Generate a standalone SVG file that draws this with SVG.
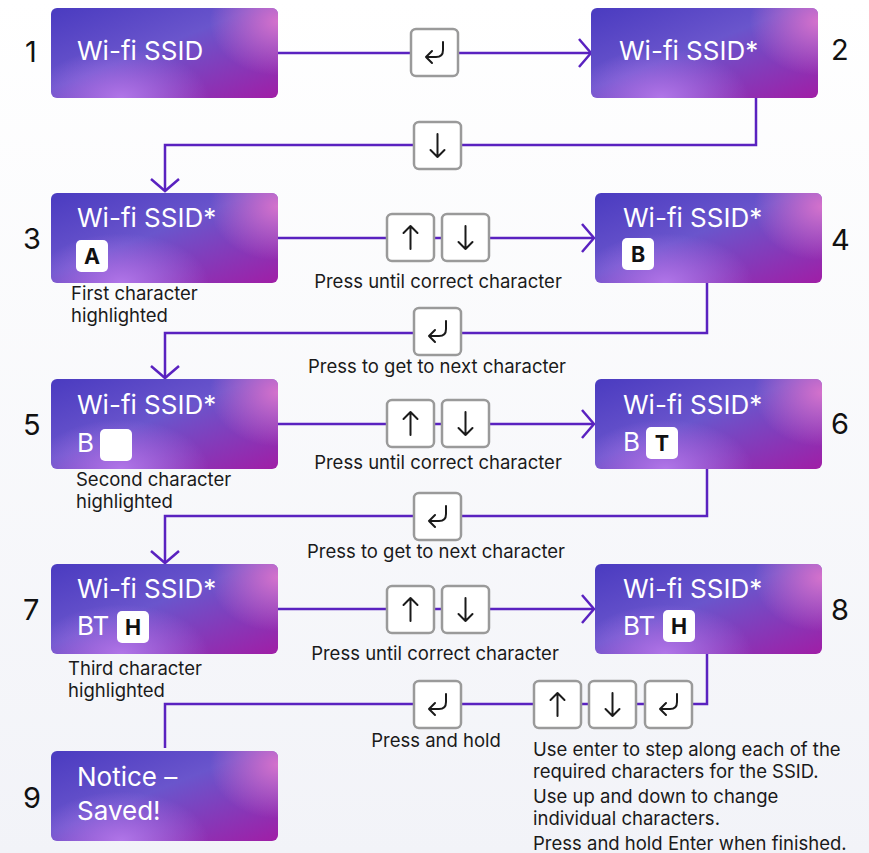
<svg xmlns="http://www.w3.org/2000/svg" xmlns:xlink="http://www.w3.org/1999/xlink" width="869" height="853" viewBox="0 0 869 853">
<style>
text{font-variant-ligatures:none;font-feature-settings:"liga" 0;}
.node-bg{fill:url(#gBase);}
.glow1{fill:url(#gPink);}
.glow2{fill:url(#gLav);}
.nt{font-family:Inter,"Liberation Sans",sans-serif;font-size:26px;fill:#ffffff;}
.num{font-family:Inter,"Liberation Sans",sans-serif;font-size:29px;fill:#111111;}
.chip{fill:#ffffff;}
.ct{font-family:Inter,"Liberation Sans",sans-serif;font-size:21.5px;font-weight:bold;fill:#111111;text-anchor:middle;}
.lbl{font-family:Inter,"Liberation Sans",sans-serif;font-size:18.5px;fill:#1a1a1a;}
.mid{text-anchor:middle;}
.conn{fill:none;stroke:#5a22c0;stroke-width:2.5;}
.keybox{fill:#ffffff;stroke:#9a9a9a;stroke-width:2.5;}
.glyph{fill:none;stroke:#1a1a1a;stroke-width:2;stroke-linecap:round;stroke-linejoin:round;}
</style>
<defs>
<linearGradient id="bg" x1="0" y1="0" x2="0" y2="1">
<stop offset="0" stop-color="#ffffff"/>
<stop offset="1" stop-color="#f2f3f8"/>
</linearGradient>
<linearGradient id="gBase" x1="0" y1="0" x2="1" y2="1">
<stop offset="0" stop-color="#4a3bc0"/>
<stop offset="0.45" stop-color="#6a55cc"/>
<stop offset="1" stop-color="#a01ea6"/>
</linearGradient>
<radialGradient id="gPink" cx="1" cy="0.1" r="0.6" gradientTransform="translate(0.5 0.05) scale(0.5 1)">
<stop offset="0" stop-color="#d472cc" stop-opacity="1"/>
<stop offset="1" stop-color="#d472cc" stop-opacity="0"/>
</radialGradient>
<radialGradient id="gLav" cx="0.3" cy="1" r="0.55" gradientTransform="translate(0.1 0) scale(0.7 1)">
<stop offset="0" stop-color="#b378ea" stop-opacity="0.95"/>
<stop offset="1" stop-color="#b378ea" stop-opacity="0"/>
</radialGradient>
<marker id="arr" markerUnits="userSpaceOnUse" markerWidth="16" markerHeight="32" refX="13" refY="15" orient="auto" overflow="visible">
<path d="M1,1 L13,15 L1,29" fill="none" stroke="#5a22c0" stroke-width="2.5"/>
</marker>
<g id="kEnter">
<rect class="keybox" x="0" y="0" width="47" height="47" rx="5"/>
<path class="glyph" d="M32,13 V21 Q32,28 25,28 H15 M21,22 L15,28 L21,34"/>
</g>
<g id="kDown">
<rect class="keybox" x="0" y="0" width="47" height="47" rx="5"/>
<path class="glyph" d="M23.5,12 V35 M16.5,28 L23.5,35 L30.5,28"/>
</g>
<g id="kUp">
<rect class="keybox" x="0" y="0" width="47" height="47" rx="5"/>
<path class="glyph" d="M23.5,12 V35 M16.5,19 L23.5,12 L30.5,19"/>
</g>
<g id="box">
<rect class="node-bg" x="0" y="0" width="227" height="90" rx="6"/>
<rect class="glow1" x="0" y="0" width="227" height="90" rx="6"/>
<rect class="glow2" x="0" y="0" width="227" height="90" rx="6"/>
</g>
</defs>
<rect x="0" y="0" width="869" height="853" fill="url(#bg)"/>

<g id="connectors">
<path class="conn" d="M278,53 H591" marker-end="url(#arr)"/>
<path class="conn" d="M756,98 V145 H165 V191" marker-end="url(#arr)"/>
<path class="conn" d="M278,238 H594" marker-end="url(#arr)"/>
<path class="conn" d="M707,282 V333 H165 V378" marker-end="url(#arr)"/>
<path class="conn" d="M278,424 H594" marker-end="url(#arr)"/>
<path class="conn" d="M707,469 V516 H165 V563" marker-end="url(#arr)"/>
<path class="conn" d="M278,609 H594" marker-end="url(#arr)"/>
<path class="conn" d="M707,654 V704 H165 V748"/>
</g>

<g id="keys">
<use xlink:href="#kEnter" x="411" y="29"/>
<use xlink:href="#kDown" x="414" y="122"/>
<use xlink:href="#kUp" x="387" y="214"/>
<use xlink:href="#kDown" x="442" y="214"/>
<use xlink:href="#kEnter" x="414" y="308"/>
<use xlink:href="#kUp" x="387" y="400"/>
<use xlink:href="#kDown" x="442" y="400"/>
<use xlink:href="#kEnter" x="414" y="493"/>
<use xlink:href="#kUp" x="387" y="586"/>
<use xlink:href="#kDown" x="442" y="586"/>
<use xlink:href="#kEnter" x="414" y="681"/>
<use xlink:href="#kUp" x="534" y="681"/>
<use xlink:href="#kDown" x="589" y="681"/>
<use xlink:href="#kEnter" x="645" y="681"/>
</g>

<g id="node1">
<use xlink:href="#box" x="51" y="8"/>
<text class="nt" x="77" y="60">Wi-fi SSID</text>
<text class="num" x="25" y="62">1</text>
</g>
<g id="node2">
<use xlink:href="#box" x="591" y="8"/>
<text class="nt" x="619" y="60">Wi-fi SSID*</text>
<text class="num" x="831" y="60">2</text>
</g>
<g id="node3">
<use xlink:href="#box" x="51" y="193"/>
<text class="nt" x="77" y="227">Wi-fi SSID*</text>
<rect class="chip" x="76" y="240" width="32" height="32" rx="5"/>
<text class="ct" x="92" y="264">A</text>
<text class="num" x="23" y="249">3</text>
<text class="lbl" x="71" y="300">First character</text>
<text class="lbl" x="71" y="322">highlighted</text>
</g>
<g id="node4">
<use xlink:href="#box" x="595" y="193"/>
<text class="nt" x="623" y="227">Wi-fi SSID*</text>
<rect class="chip" x="622" y="238" width="32" height="32" rx="5"/>
<text class="ct" x="638" y="262">B</text>
<text class="num" x="831" y="250">4</text>
</g>
<g id="node5">
<use xlink:href="#box" x="51" y="379"/>
<text class="nt" x="77" y="414">Wi-fi SSID*</text>
<text class="nt" x="77" y="452">B</text>
<rect class="chip" x="100" y="429" width="32" height="32" rx="5"/>
<text class="num" x="23" y="435">5</text>
<text class="lbl" x="76" y="486">Second character</text>
<text class="lbl" x="76" y="508">highlighted</text>
</g>
<g id="node6">
<use xlink:href="#box" x="595" y="379"/>
<text class="nt" x="623" y="414">Wi-fi SSID*</text>
<text class="nt" x="623" y="451">B</text>
<rect class="chip" x="646" y="427" width="32" height="32" rx="5"/>
<text class="ct" x="662" y="451">T</text>
<text class="num" x="831" y="434">6</text>
</g>
<g id="node7">
<use xlink:href="#box" x="51" y="564"/>
<text class="nt" x="77" y="598">Wi-fi SSID*</text>
<text class="nt" x="77" y="635">BT</text>
<rect class="chip" x="117" y="611" width="32" height="32" rx="5"/>
<text class="ct" x="133" y="635">H</text>
<text class="num" x="23" y="620">7</text>
<text class="lbl" x="68" y="675">Third character</text>
<text class="lbl" x="68" y="697">highlighted</text>
</g>
<g id="node8">
<use xlink:href="#box" x="595" y="564"/>
<text class="nt" x="623" y="598">Wi-fi SSID*</text>
<text class="nt" x="623" y="635">BT</text>
<rect class="chip" x="663" y="610" width="32" height="32" rx="5"/>
<text class="ct" x="679" y="634">H</text>
<text class="num" x="831" y="620">8</text>
</g>
<g id="node9">
<use xlink:href="#box" x="51" y="751"/>
<text class="nt" x="77" y="786">Notice –</text>
<text class="nt" x="77" y="820">Saved!</text>
<text class="num" x="23" y="808">9</text>
</g>

<g id="labels">
<text class="lbl mid" x="438" y="288">Press until correct character</text>
<text class="lbl mid" x="437" y="373">Press to get to next character</text>
<text class="lbl mid" x="438" y="469">Press until correct character</text>
<text class="lbl mid" x="436" y="558">Press to get to next character</text>
<text class="lbl mid" x="435" y="660">Press until correct character</text>
<text class="lbl mid" x="436" y="747">Press and hold</text>
<text class="lbl" x="533" y="756">Use enter to step along each of the</text>
<text class="lbl" x="533" y="778">required characters for the SSID.</text>
<text class="lbl" x="533" y="803">Use up and down to change</text>
<text class="lbl" x="533" y="825">individual characters.</text>
<text class="lbl" x="533" y="850">Press and hold Enter when finished.</text>
</g>
</svg>
